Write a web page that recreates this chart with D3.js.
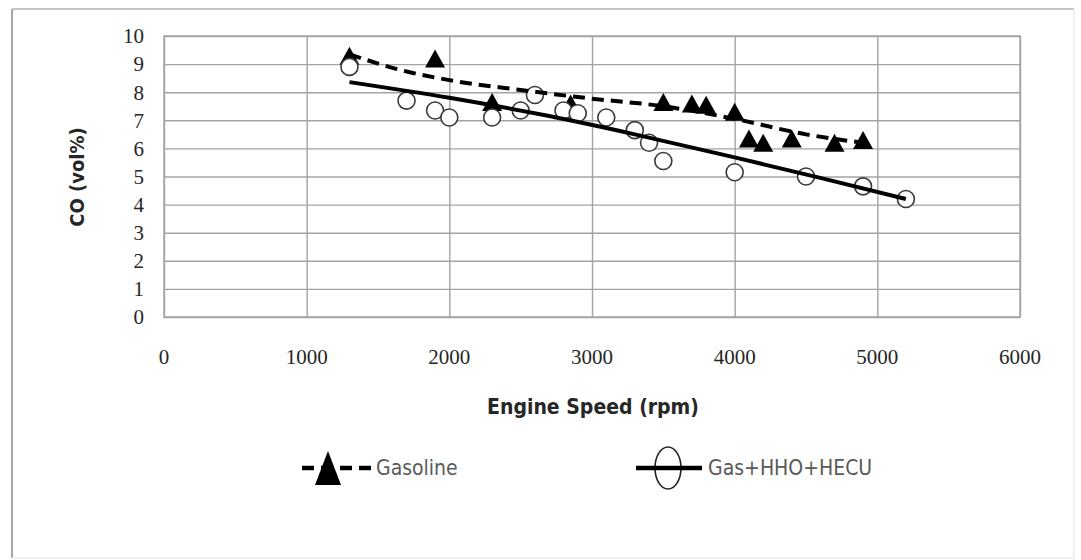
<!DOCTYPE html>
<html>
<head>
<meta charset="utf-8">
<script src="https://cdn.jsdelivr.net/npm/d3@7"></script>
<style>
    body { margin: 0; background: #fff; }
    svg { display: block; }
    .tick-label { font-family: "Liberation Serif", serif; font-size: 21px; fill: #262626; }
    .axis-title { font-family: "DejaVu Sans Condensed", "DejaVu Sans", sans-serif; font-weight: bold; fill: #262626; }
    .legend-text { font-family: "DejaVu Sans Condensed", "DejaVu Sans", sans-serif; font-size: 21px; fill: #595959; }
</style>
</head>
<body>
<svg id="chart" width="1081" height="560"></svg>
<script>
"use strict";

// Gasoline (triangles)
const gas_rpm = [1300, 1900, 2300, 2850, 3500, 3700, 3800, 4000, 4100, 4200, 4400, 4700, 4900];
const gas_co  = [9.3, 9.2, 7.65, 7.6, 7.65, 7.6, 7.55, 7.3, 6.35, 6.2, 6.35, 6.2, 6.3];

// Gas+HHO+HECU (circles)
const hho_rpm = [1300, 1700, 1900, 2000, 2300, 2500, 2600, 2800, 2900, 3100, 3300, 3400, 3500, 4000, 4500, 4900, 5200];
const hho_co  = [8.9, 7.7, 7.35, 7.1, 7.1, 7.35, 7.9, 7.35, 7.25, 7.1, 6.65, 6.2, 5.55, 5.15, 5.0, 4.65, 4.2];

// trend lines
const gas_trend_rpm = [1300, 1650, 2000, 2500, 3000, 3500, 4000, 4500, 4900];
const gas_trend_co  = [9.35, 8.8, 8.43, 8.08, 7.77, 7.5, 7.05, 6.5, 6.2];
const hho_trend_rpm = [1300, 2000, 2700, 3300, 4000, 4600, 5200];
const hho_trend_co  = [8.36, 7.8, 7.15, 6.5, 5.68, 4.95, 4.2];

const x_ticks = [0, 1000, 2000, 3000, 4000, 5000, 6000];
const y_ticks = [0, 1, 2, 3, 4, 5, 6, 7, 8, 9, 10];

const series_names = ['Gasoline', 'Gas+HHO+HECU'];

const svg = d3.select('#chart');
const plot = {left: 164, right: 1020, top: 36, bottom: 317};

const xScale = d3.scaleLinear().domain([0, 6000]).range([plot.left, plot.right]);
const yScale = d3.scaleLinear().domain([0, 10]).range([plot.bottom, plot.top]);

// outer chart frame
svg.append('line').attr('x1', 12).attr('y1', 9).attr('x2', 12).attr('y2', 558)
    .style('stroke', '#a6a6a6').style('stroke-width', 2);
svg.append('line').attr('x1', 12).attr('y1', 9).attr('x2', 1074).attr('y2', 9)
    .style('stroke', '#b3b3b3').style('stroke-width', 1.5);
svg.append('line').attr('x1', 1074).attr('y1', 9).attr('x2', 1074).attr('y2', 558)
    .style('stroke', '#ececec').style('stroke-width', 1.5);
svg.append('line').attr('x1', 12).attr('y1', 558).attr('x2', 1074).attr('y2', 558)
    .style('stroke', '#ececec').style('stroke-width', 1.5);

// grid
const xAxis = d3.axisBottom(xScale)
    .tickValues(x_ticks)
    .tickSizeInner(-(plot.bottom - plot.top))
    .tickSizeOuter(0)
    .tickFormat('');
const yAxis = d3.axisLeft(yScale)
    .tickValues(y_ticks)
    .tickSizeInner(-(plot.right - plot.left))
    .tickSizeOuter(0)
    .tickFormat('');

const gx = svg.append('g').attr('transform', `translate(0,${plot.bottom})`).call(xAxis);
const gy = svg.append('g').attr('transform', `translate(${plot.left},0)`).call(yAxis);
[gx, gy].forEach(g => {
    g.select('.domain').remove();
    g.selectAll('.tick line').style('stroke', '#a3a3a3').style('stroke-width', 1.4);
});
svg.append('rect')
    .attr('x', plot.left).attr('y', plot.top)
    .attr('width', plot.right - plot.left).attr('height', plot.bottom - plot.top)
    .style('fill', 'none').style('stroke', '#a3a3a3').style('stroke-width', 1.4);

// tick labels
svg.selectAll('.x-label').data(x_ticks).enter().append('text')
    .attr('class', 'tick-label x-label')
    .attr('x', d => xScale(d)).attr('y', 364)
    .attr('text-anchor', 'middle')
    .text(d => d);
svg.selectAll('.y-label').data(y_ticks).enter().append('text')
    .attr('class', 'tick-label y-label')
    .attr('x', 144).attr('y', d => yScale(d))
    .attr('dy', '0.35em')
    .attr('text-anchor', 'end')
    .text(d => d);

// axis titles
svg.append('text').attr('class', 'axis-title')
    .attr('transform', 'translate(84,177) rotate(-90)')
    .attr('text-anchor', 'middle')
    .style('font-size', '20px')
    .text('CO (vol%)');
svg.append('text').attr('class', 'axis-title')
    .attr('x', 593).attr('y', 414)
    .attr('text-anchor', 'middle')
    .style('font-size', '21px')
    .text('Engine Speed (rpm)');

const triangle = (w, h) => `M0,${-h / 2}L${w / 2},${h / 2}L${-w / 2},${h / 2}Z`;

// markers
const gas_points = gas_rpm.map((r, i) => ({rpm: r, co: gas_co[i]}));
const hho_points = hho_rpm.map((r, i) => ({rpm: r, co: hho_co[i]}));

svg.selectAll('.gas-point').data(gas_points).enter().append('path')
    .attr('class', 'gas-point')
    .attr('d', triangle(20, 18))
    .attr('transform', d => `translate(${xScale(d.rpm)},${yScale(d.co)})`)
    .style('fill', '#000');

svg.selectAll('.hho-point').data(hho_points).enter().append('circle')
    .attr('class', 'hho-point')
    .attr('cx', d => xScale(d.rpm)).attr('cy', d => yScale(d.co))
    .attr('r', 8.5)
    .style('fill', '#fff')
    .style('stroke', '#3a3a3a')
    .style('stroke-width', 1.6);

// trend lines
const line = d3.line()
    .x(d => xScale(d[0]))
    .y(d => yScale(d[1]))
    .curve(d3.curveMonotoneX);

svg.append('path')
    .attr('d', line(gas_trend_rpm.map((r, i) => [r, gas_trend_co[i]])))
    .style('fill', 'none').style('stroke', '#000')
    .style('stroke-width', 4).style('stroke-dasharray', '12,7');

svg.append('path')
    .attr('d', line(hho_trend_rpm.map((r, i) => [r, hho_trend_co[i]])))
    .style('fill', 'none').style('stroke', '#000')
    .style('stroke-width', 4);

// legend
const legend_y = 468;
const lg1 = svg.append('g');
lg1.append('line').attr('x1', 302).attr('x2', 372).attr('y1', legend_y).attr('y2', legend_y)
    .style('stroke', '#000').style('stroke-width', 4.5).style('stroke-dasharray', '12,7');
lg1.append('path').attr('d', triangle(26, 34))
    .attr('transform', `translate(328,${legend_y})`).style('fill', '#000');
lg1.append('text').attr('class', 'legend-text')
    .attr('x', 376).attr('y', legend_y).attr('dy', '0.35em')
    .text(series_names[0]);

const lg2 = svg.append('g');
lg2.append('ellipse').attr('cx', 668).attr('cy', legend_y).attr('rx', 13).attr('ry', 21)
    .style('fill', '#fff').style('stroke', '#222').style('stroke-width', 1.6);
lg2.append('line').attr('x1', 636).attr('x2', 702).attr('y1', legend_y).attr('y2', legend_y)
    .style('stroke', '#000').style('stroke-width', 4.5);
lg2.append('text').attr('class', 'legend-text')
    .attr('x', 708).attr('y', legend_y).attr('dy', '0.35em')
    .text(series_names[1]);
</script>
</body>
</html>
